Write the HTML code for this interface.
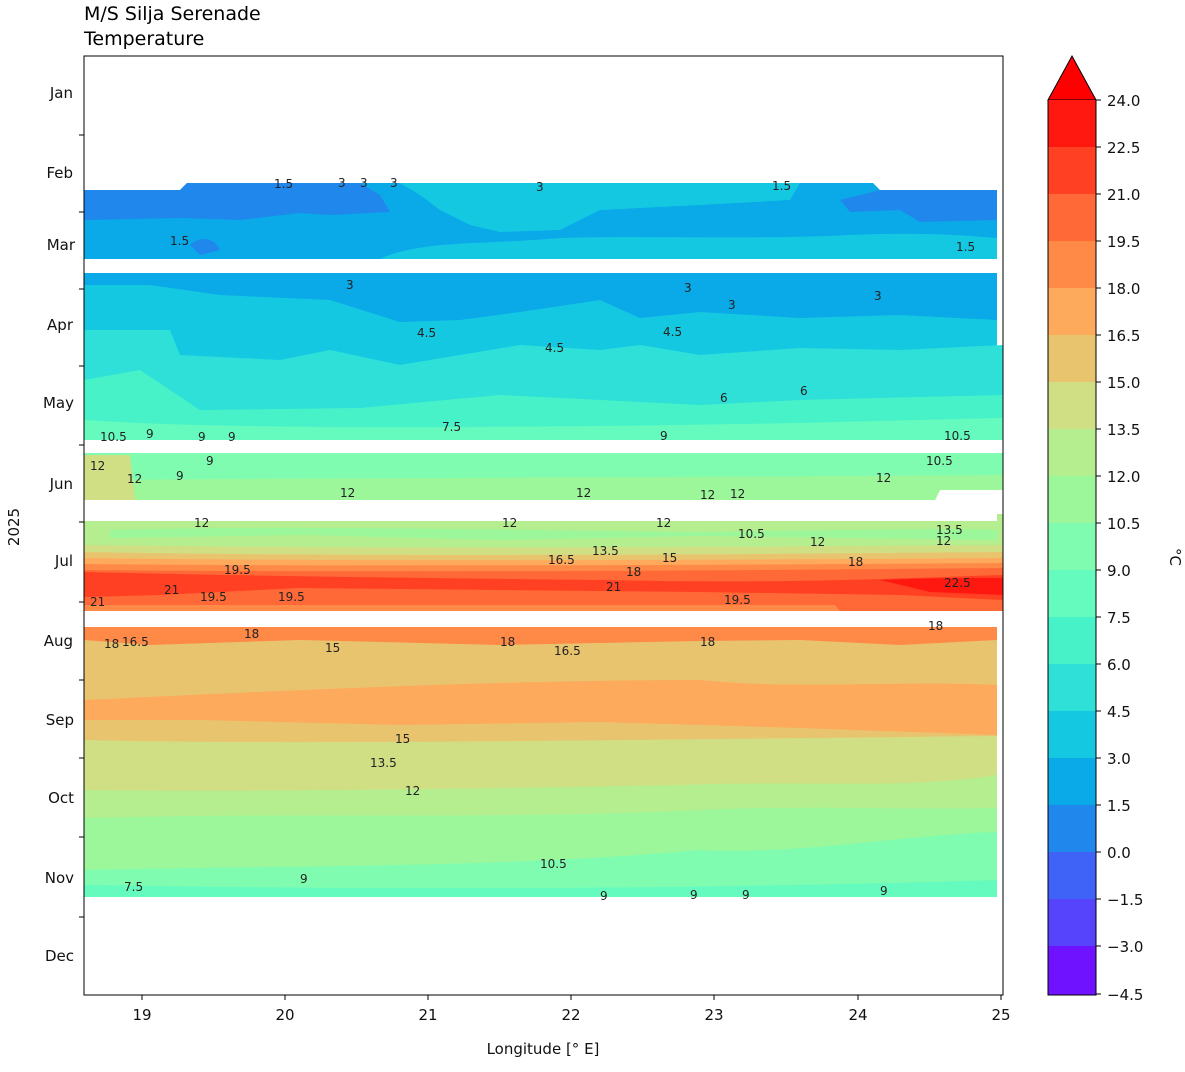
<!DOCTYPE html>
<html><head><style>body{margin:0;background:#fff}svg{display:block;font-family:"DejaVu Sans","Liberation Sans",sans-serif}</style></head>
<body>
<svg width="1185" height="1072" xmlns="http://www.w3.org/2000/svg">
<text x="84" y="20" font-size="19">M/S Silja Serenade</text>
<text x="84" y="45" font-size="19">Temperature</text>
<g stroke="none">
<!-- seg1 -->
<polygon points="84,190 180,190 187,183 873,183 880,190 997,190 997,259 84,259" fill="#0aa9e8"/>
<path d="M400,183 L800,183 790,200 700,205 600,210 560,230 500,232 470,225 440,210 420,195Z" fill="#15c8e2"/>
<path d="M380,259 C420,240 480,245 560,238 C650,235 750,240 850,235 C920,232 960,235 997,238 L997,259Z" fill="#15c8e2"/>
<path d="M84,190 L180,190 187,183 360,183 380,195 390,212 330,215 300,213 240,220 180,218 84,220Z" fill="#2088ec"/>
<path d="M190,245 C200,235 215,238 220,250 L200,255Z" fill="#2088ec"/>
<path d="M840,200 L880,190 997,190 997,220 920,222 900,210 850,212Z" fill="#2088ec"/>
<!-- seg2 -->
<rect x="84" y="273" width="913" height="167" fill="#15c8e2"/>
<path d="M84,273 L997,273 997,320 900,315 800,318 700,312 640,318 600,300 520,312 460,320 400,322 330,300 220,295 150,285 84,285Z" fill="#0aa9e8"/>
<path d="M84,330 L170,330 180,355 280,360 330,350 400,365 520,345 600,350 640,345 700,355 800,348 900,350 1003,345 1003,440 84,440Z" fill="#2ee0d8"/>
<path d="M84,380 L140,370 200,410 360,408 500,395 700,405 800,400 1003,395 1003,440 84,440Z" fill="#47f2c8"/>
<path d="M84,420 C200,428 400,428 600,426 C800,424 900,420 1003,418 L1003,440 84,440Z" fill="#66fbbe"/>
<!-- seg3 -->
<polygon points="84,453 1003,453 1003,490 940,490 935,500 84,500" fill="#80fcb0"/>
<path d="M84,480 C300,478 600,478 1003,475 L1003,490 940,490 935,500 84,500Z" fill="#9cf79b"/>
<path d="M84,455 L130,455 135,500 84,500Z" fill="#d0de84"/>
<!-- seg4 -->
<polygon points="84,521 997,521 997,514 1003,514 1003,611 840,611 835,605 84,605" fill="#b5ee8f"/>
<path d="M110,530 C300,525 500,530 700,532 C850,530 950,528 997,530 L997,540 700,536 500,540 300,535 110,538Z" fill="#9cf79b"/>
<path d="M84,545 C300,548 600,548 1003,545 L1003,611 84,611Z" fill="#d0de84"/>
<path d="M84,552 C300,556 600,556 1003,552 L1003,611 84,611Z" fill="#e9c46f"/>
<path d="M84,558 C300,561 600,561 1003,558 L1003,611 84,611Z" fill="#fdaa5c"/>
<path d="M84,564 C300,566 600,566 1003,563 L1003,611 84,611Z" fill="#ff8a48"/>
<path d="M84,570 C300,572 600,572 1003,568 L1003,611 840,611 835,605 84,605Z" fill="#ff6937"/>
<path d="M84,572 C200,575 400,578 600,580 C800,584 900,578 1003,575 L1003,600 900,595 700,592 500,590 300,588 160,595 84,597Z" fill="#ff4022"/>
<path d="M880,580 C930,578 970,578 1003,578 L1003,595 930,592Z" fill="#ff1810"/>
<path d="M84,605 L84,600 200,596 300,598 500,596 835,600 840,611 1003,611 1003,605" fill="#ff6937"/>
<!-- seg5 -->
<rect x="84" y="627" width="913" height="270" fill="#e9c46f"/>
<path d="M84,627 L997,627 997,640 900,645 800,640 700,641 500,645 300,640 150,645 84,640Z" fill="#ff8a48"/>
<path d="M84,700 C300,690 500,680 700,680 C800,690 900,680 997,685 L997,735 800,728 600,722 400,725 200,720 84,720Z" fill="#fdaa5c"/>
<path d="M84,740 C300,745 600,740 997,736 L997,897 84,897Z" fill="#d0de84"/>
<path d="M84,790 C200,792 400,790 680,785 C800,780 900,790 997,775 L997,897 84,897Z" fill="#b5ee8f"/>
<path d="M84,818 C300,812 500,820 700,810 C800,805 900,810 997,808 L997,897 84,897Z" fill="#9cf79b"/>
<path d="M84,870 C300,865 500,868 700,850 C800,855 900,835 997,832 L997,897 84,897Z" fill="#80fcb0"/>
<path d="M84,885 C300,888 600,892 997,880 L997,897 84,897Z" fill="#66fbbe"/>
</g>
<g font-size="12" fill="#222">
<text x="274" y="188">1.5</text><text x="338" y="187">3</text><text x="360" y="187">3</text><text x="390" y="187">3</text><text x="536" y="191">3</text><text x="772" y="190">1.5</text>
<text x="170" y="245">1.5</text><text x="956" y="251">1.5</text>
<text x="346" y="289">3</text><text x="684" y="292">3</text><text x="728" y="309">3</text><text x="874" y="300">3</text>
<text x="417" y="337">4.5</text><text x="663" y="336">4.5</text><text x="545" y="352">4.5</text>
<text x="800" y="395">6</text><text x="720" y="402">6</text><text x="442" y="431">7.5</text><text x="100" y="441">10.5</text><text x="146" y="438">9</text><text x="198" y="441">9</text><text x="228" y="441">9</text><text x="660" y="440">9</text><text x="944" y="440">10.5</text>
<text x="926" y="465">10.5</text><text x="90" y="470">12</text><text x="127" y="483">12</text><text x="340" y="497">12</text><text x="576" y="497">12</text><text x="700" y="499">12</text><text x="730" y="498">12</text><text x="876" y="482">12</text><text x="206" y="465">9</text><text x="176" y="480">9</text>
<text x="194" y="527">12</text><text x="502" y="527">12</text><text x="656" y="527">12</text><text x="738" y="538">10.5</text><text x="810" y="546">12</text><text x="936" y="534">13.5</text><text x="936" y="545">12</text>
<text x="592" y="555">13.5</text><text x="548" y="564">16.5</text><text x="662" y="562">15</text><text x="626" y="576">18</text><text x="848" y="566">18</text><text x="224" y="574">19.5</text><text x="606" y="591">21</text><text x="164" y="594">21</text><text x="200" y="601">19.5</text><text x="278" y="601">19.5</text><text x="90" y="606">21</text><text x="724" y="604">19.5</text><text x="944" y="587">22.5</text>
<text x="104" y="648">18</text><text x="122" y="646">16.5</text><text x="244" y="638">18</text><text x="325" y="652">15</text><text x="500" y="646">18</text><text x="554" y="655">16.5</text><text x="700" y="646">18</text><text x="928" y="630">18</text>
<text x="395" y="743">15</text><text x="370" y="767">13.5</text><text x="405" y="795">12</text><text x="300" y="883">9</text><text x="540" y="868">10.5</text><text x="124" y="891">7.5</text><text x="600" y="900">9</text><text x="690" y="899">9</text><text x="742" y="899">9</text><text x="880" y="895">9</text>
</g>
<rect x="84" y="56" width="919" height="939" fill="none" stroke="#000" stroke-width="1"/>
<g stroke="#000">
<line x1="79" y1="135" x2="84" y2="135"/><line x1="79" y1="212" x2="84" y2="212"/><line x1="79" y1="289" x2="84" y2="289"/><line x1="79" y1="366" x2="84" y2="366"/><line x1="79" y1="445" x2="84" y2="445"/><line x1="79" y1="522" x2="84" y2="522"/><line x1="79" y1="602" x2="84" y2="602"/><line x1="79" y1="680" x2="84" y2="680"/><line x1="79" y1="758" x2="84" y2="758"/><line x1="79" y1="837" x2="84" y2="837"/><line x1="79" y1="917" x2="84" y2="917"/>
<line x1="142" y1="995" x2="142" y2="1000"/><line x1="285" y1="995" x2="285" y2="1000"/><line x1="428" y1="995" x2="428" y2="1000"/><line x1="571" y1="995" x2="571" y2="1000"/><line x1="714" y1="995" x2="714" y2="1000"/><line x1="858" y1="995" x2="858" y2="1000"/><line x1="1001" y1="995" x2="1001" y2="1000"/>
</g>
<g font-size="15" text-anchor="end" fill="#111">
<text x="73" y="98">Jan</text><text x="73" y="178">Feb</text><text x="75" y="250">Mar</text><text x="73" y="330">Apr</text><text x="74" y="408">May</text><text x="73" y="489">Jun</text><text x="73" y="566">Jul</text><text x="73" y="646">Aug</text><text x="74" y="725">Sep</text><text x="74" y="803">Oct</text><text x="74" y="883">Nov</text><text x="74" y="961">Dec</text>
</g>
<g font-size="15" text-anchor="middle" fill="#111">
<text x="142" y="1020">19</text><text x="285" y="1020">20</text><text x="428" y="1020">21</text><text x="571" y="1020">22</text><text x="714" y="1020">23</text><text x="858" y="1020">24</text><text x="1001" y="1020">25</text>
<text x="543" y="1054">Longitude [° E]</text>
<text transform="translate(19,527) rotate(-90)">2025</text>
</g>
<g>
<polygon points="1048,100 1072,56 1096,100" fill="#ff0000" stroke="#000"/>
<rect x="1048" y="100" width="48" height="48" fill="#ff1810"/>
<rect x="1048" y="147" width="48" height="48" fill="#ff4022"/>
<rect x="1048" y="194" width="48" height="48" fill="#ff6937"/>
<rect x="1048" y="241" width="48" height="48" fill="#ff8a48"/>
<rect x="1048" y="288" width="48" height="48" fill="#fdaa5c"/>
<rect x="1048" y="335" width="48" height="48" fill="#e9c46f"/>
<rect x="1048" y="382" width="48" height="48" fill="#d0de84"/>
<rect x="1048" y="429" width="48" height="48" fill="#b5ee8f"/>
<rect x="1048" y="476" width="48" height="48" fill="#9cf79b"/>
<rect x="1048" y="523" width="48" height="48" fill="#80fcb0"/>
<rect x="1048" y="570" width="48" height="48" fill="#66fbbe"/>
<rect x="1048" y="617" width="48" height="48" fill="#47f2c8"/>
<rect x="1048" y="664" width="48" height="48" fill="#2ee0d8"/>
<rect x="1048" y="711" width="48" height="48" fill="#15c8e2"/>
<rect x="1048" y="758" width="48" height="48" fill="#0aa9e8"/>
<rect x="1048" y="805" width="48" height="48" fill="#2088ec"/>
<rect x="1048" y="852" width="48" height="48" fill="#3f63f6"/>
<rect x="1048" y="899" width="48" height="48" fill="#5544fb"/>
<rect x="1048" y="946" width="48" height="49" fill="#6f12ff"/>
<path d="M1048,100 V995 H1096 V100" fill="none" stroke="#000"/>
</g>
<g font-size="15" fill="#111">
<text x="1107" y="106">24.0</text><text x="1107" y="153">22.5</text><text x="1107" y="200">21.0</text><text x="1107" y="247">19.5</text><text x="1107" y="294">18.0</text><text x="1107" y="341">16.5</text><text x="1107" y="388">15.0</text><text x="1107" y="435">13.5</text><text x="1107" y="482">12.0</text><text x="1107" y="529">10.5</text><text x="1107" y="576">9.0</text><text x="1107" y="623">7.5</text><text x="1107" y="670">6.0</text><text x="1107" y="717">4.5</text><text x="1107" y="764">3.0</text><text x="1107" y="811">1.5</text><text x="1107" y="858">0.0</text><text x="1107" y="905">−1.5</text><text x="1107" y="952">−3.0</text><text x="1107" y="1000">−4.5</text>
<text transform="translate(1170,548) rotate(90)">°C</text>
</g>
<g stroke="#000">
<line x1="1096" y1="100" x2="1101" y2="100"/><line x1="1096" y1="147" x2="1101" y2="147"/><line x1="1096" y1="194" x2="1101" y2="194"/><line x1="1096" y1="241" x2="1101" y2="241"/><line x1="1096" y1="288" x2="1101" y2="288"/><line x1="1096" y1="335" x2="1101" y2="335"/><line x1="1096" y1="382" x2="1101" y2="382"/><line x1="1096" y1="429" x2="1101" y2="429"/><line x1="1096" y1="476" x2="1101" y2="476"/><line x1="1096" y1="523" x2="1101" y2="523"/><line x1="1096" y1="570" x2="1101" y2="570"/><line x1="1096" y1="617" x2="1101" y2="617"/><line x1="1096" y1="664" x2="1101" y2="664"/><line x1="1096" y1="711" x2="1101" y2="711"/><line x1="1096" y1="758" x2="1101" y2="758"/><line x1="1096" y1="805" x2="1101" y2="805"/><line x1="1096" y1="852" x2="1101" y2="852"/><line x1="1096" y1="899" x2="1101" y2="899"/><line x1="1096" y1="946" x2="1101" y2="946"/><line x1="1096" y1="994" x2="1101" y2="994"/>
</g>
</svg>
</body></html>
